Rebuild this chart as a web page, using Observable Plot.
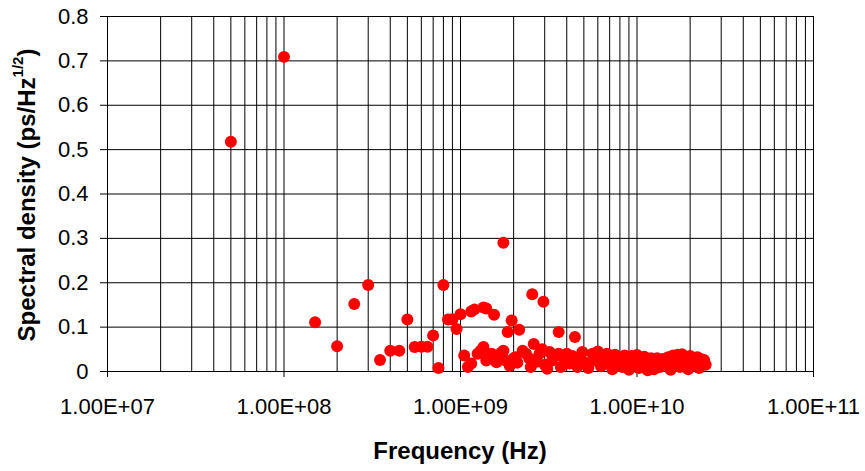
<!DOCTYPE html>
<html><head><meta charset="utf-8">
<script src="https://cdn.jsdelivr.net/npm/d3@7"></script>
<script src="https://cdn.jsdelivr.net/npm/@observablehq/plot@0.6"></script>
<style>body{margin:0;background:#fff}</style>
</head><body><div id="chart"></div>
<script>
// Frequency (Hz) and spectral density (ps/Hz^1/2)
const frequencyHz = [
  5e7, 1e8, 1.5e8, 2e8, 2.5e8, 3e8, 3.5e8, 4e8, 4.5e8, 5e8,
  5.5e8, 6e8, 6.5e8, 7e8, 7.5e8, 8e8, 8.5e8, 9e8, 9.5e8, 1e9,
  1.15e9, 1.2e9, 1.35e9, 1.4e9, 1.55e9, 1.75e9, 1.85e9, 1.95e9, 2.15e9, 2.55e9,
  2.95e9, 3.6e9, 4.45e9,
  1.05e9, 1.10e9, 1.15e9, 1.25e9, 1.30e9, 1.35e9, 1.40e9, 1.45e9, 1.50e9, 1.60e9,
  1.65e9, 1.70e9, 1.75e9, 1.80e9, 1.90e9, 2.00e9, 2.05e9, 2.10e9, 2.25e9, 2.35e9,
  2.45e9, 2.50e9, 2.60e9, 2.70e9, 2.80e9, 2.90e9, 3.00e9, 3.10e9, 3.20e9, 3.30e9,
  3.45e9, 3.60e9, 3.70e9, 3.85e9, 4.00e9, 4.15e9, 4.30e9, 4.60e9, 4.75e9, 4.90e9,
  5.10e9, 5.30e9, 5.60e9, 5.80e9, 6.00e9, 6.25e9, 6.50e9, 6.75e9, 7.00e9, 7.25e9,
  7.50e9, 7.75e9, 8.00e9, 8.25e9, 8.50e9, 8.75e9, 9.00e9, 9.25e9, 9.50e9, 9.75e9,
  1.00e10, 1.025e10, 1.05e10, 1.075e10, 1.10e10, 1.125e10, 1.15e10, 1.175e10, 1.20e10, 1.225e10,
  1.25e10, 1.275e10, 1.30e10, 1.35e10, 1.40e10, 1.45e10, 1.50e10, 1.55e10, 1.60e10, 1.65e10,
  1.70e10, 1.75e10, 1.80e10, 1.85e10, 1.90e10, 1.95e10, 2.00e10, 2.05e10, 2.10e10, 2.15e10,
  2.20e10, 2.25e10, 2.30e10, 2.35e10, 2.40e10, 2.45e10
];
const spectralDensity = [
  0.518, 0.709, 0.111, 0.057, 0.152, 0.195, 0.026, 0.047, 0.047, 0.117,
  0.055, 0.056, 0.056, 0.081, 0.008, 0.195, 0.117, 0.118, 0.096, 0.129,
  0.135, 0.140, 0.144, 0.142, 0.128, 0.290, 0.089, 0.115, 0.094, 0.174,
  0.157, 0.089, 0.078,
  0.036, 0.010, 0.018, 0.040, 0.047, 0.055, 0.025, 0.030, 0.040, 0.021,
  0.035, 0.042, 0.047, 0.025, 0.013, 0.030, 0.032, 0.020, 0.047, 0.040,
  0.030, 0.010, 0.062, 0.022, 0.040, 0.050, 0.015, 0.006, 0.044, 0.025,
  0.035, 0.040, 0.010, 0.030, 0.040, 0.018, 0.035, 0.010, 0.030, 0.044,
  0.020, 0.008, 0.040, 0.025, 0.045, 0.012, 0.035, 0.040, 0.018, 0.005,
  0.038, 0.025, 0.030, 0.010, 0.036, 0.020, 0.004, 0.035, 0.028, 0.015,
  0.037, 0.008, 0.030, 0.020, 0.033, 0.012, 0.003, 0.028, 0.030, 0.015,
  0.005, 0.025, 0.030, 0.010, 0.028, 0.018, 0.032, 0.004, 0.036, 0.022,
  0.038, 0.010, 0.039, 0.025, 0.033, 0.005, 0.035, 0.018, 0.030, 0.024,
  0.032, 0.008, 0.028, 0.020, 0.026, 0.015
];
const xTicks = [1e7, 1e8, 1e9, 1e10, 1e11];
const xTickLabels = ["1.00E+07", "1.00E+08", "1.00E+09", "1.00E+10", "1.00E+11"];
const yTicks = [0, 0.1, 0.2, 0.3, 0.4, 0.5, 0.6, 0.7, 0.8];
const yTickLabels = ["0", "0.1", "0.2", "0.3", "0.4", "0.5", "0.6", "0.7", "0.8"];

const data = frequencyHz.map((f, i) => ({f, v: spectralDensity[i]}));
const minorGrid = d3.range(7, 11).flatMap(k => d3.range(1, 10).map(m => m * Math.pow(10, k))).concat([1e11]);
const font = "'Liberation Sans', Arial, sans-serif";

const chart = Plot.plot({
  width: 865, height: 471,
  marginLeft: 107, marginRight: 52, marginTop: 16, marginBottom: 100,
  style: {fontFamily: font, fontSize: "22px", background: "white", color: "black"},
  x: {type: "log", domain: [1e7, 1e11]},
  y: {domain: [0, 0.8]},
  marks: [
    Plot.ruleX(minorGrid, {stroke: "black", strokeWidth: 1}),
    Plot.ruleY(yTicks, {stroke: "black", strokeWidth: 1}),
    Plot.axisX({ticks: xTicks, tickFormat: d => xTickLabels[xTicks.indexOf(d)], tickSize: 6, tickPadding: 21, label: null}),
    Plot.axisY({ticks: yTicks, tickFormat: d => yTickLabels[yTicks.indexOf(d)], tickSize: 7, tickPadding: 12, label: null}),
    Plot.dot(data, {x: "f", y: "v", r: 6, fill: "#ff0000", stroke: "none"})
  ]
});
document.getElementById("chart").appendChild(chart);
const svg = d3.select(chart);
svg.append("text")
  .attr("x", 460).attr("y", 453).attr("text-anchor", "middle").attr("dominant-baseline", "middle")
  .style("font-family", font).style("font-size", "24px").style("font-weight", "bold")
  .text("Frequency (Hz)");
const yl = svg.append("text")
  .attr("transform", "translate(29,195) rotate(-90)")
  .attr("text-anchor", "middle").attr("dominant-baseline", "middle")
  .style("font-family", font).style("font-size", "24px").style("font-weight", "bold");
yl.append("tspan").text("Spectral density (ps/Hz");
yl.append("tspan").attr("dy", -10).style("font-size", "15px").text("1/2");
yl.append("tspan").attr("dy", 10).text(")");
</script></body></html>
